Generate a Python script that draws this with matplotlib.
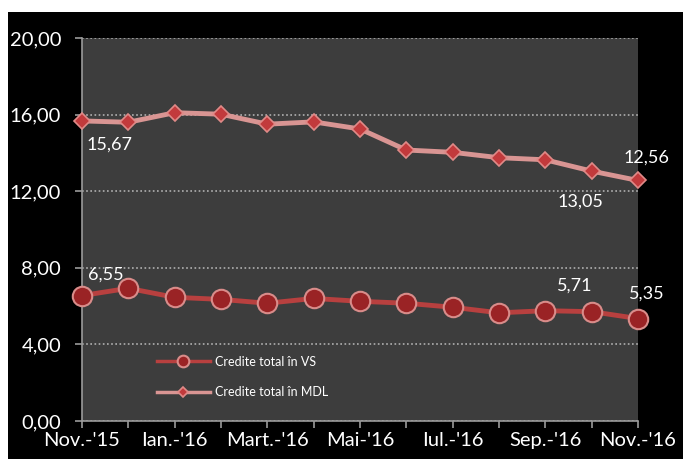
import matplotlib.pyplot as plt
from matplotlib.patches import Rectangle

months = ["Nov.-'15", "Dec.-'15", "Ian.-'16", "Feb.-'16", "Mart.-'16", "Apr.-'16", "Mai-'16",
          "Iun.-'16", "Iul.-'16", "Aug.-'16", "Sep.-'16", "Oct.-'16", "Nov.-'16"]
credite_vs = [6.55, 6.93, 6.46, 6.35, 6.15, 6.40, 6.25, 6.15, 5.94, 5.65, 5.76, 5.71, 5.35]
credite_mdl = [15.67, 15.60, 16.10, 16.02, 15.50, 15.62, 15.25, 14.15, 14.03, 13.75, 13.64, 13.05, 12.56]
yticks = [0, 4, 8, 12, 16, 20]

# which points get a value label, and where (offset in points)
labels_vs = {0: (17, 9), 11: (-12, 13), 12: (6, 12)}
labels_mdl = {0: (20, -11), 11: (-8, -16), 12: (6, 11)}


def fmt(v):
    return ('%.2f' % v).replace('.', ',')


plt.rcParams['font.family'] = ['Lato', 'DejaVu Sans']

fig = plt.figure(figsize=(6.83, 4.59), dpi=100, facecolor='white')
fig.patches.append(Rectangle((8 / 683, 0), 1, 1 - 12 / 459, transform=fig.transFigure,
                             facecolor='black', edgecolor='none', zorder=-10))
ax = fig.add_axes([82 / 683, 38 / 459, (638 - 82) / 683, (421 - 38) / 459])
ax.set_facecolor('#3d3d3d')

x = list(range(len(months)))
ax.plot(x, credite_vs, color='#b8403f', lw=3.5, marker='o', ms=14,
        markerfacecolor='#9a2325', markeredgecolor='#d98c8a', markeredgewidth=1.5,
        label='Credite total în VS', zorder=3, clip_on=False)
ax.plot(x, credite_mdl, color='#d99593', lw=3.5, marker='D', ms=8.5,
        markerfacecolor='#c23a3c', markeredgecolor='#e08a88', markeredgewidth=1.2,
        label='Credite total în MDL', zorder=3, clip_on=False)

for i, (dx, dy) in labels_vs.items():
    ax.annotate(fmt(credite_vs[i]), (x[i], credite_vs[i]), xytext=(dx, dy),
                textcoords='offset points', ha='center', va='bottom' if dy > 0 else 'top',
                color='white', fontsize=13)
for i, (dx, dy) in labels_mdl.items():
    ax.annotate(fmt(credite_mdl[i]), (x[i], credite_mdl[i]), xytext=(dx, dy),
                textcoords='offset points', ha='center', va='bottom' if dy > 0 else 'top',
                color='white', fontsize=13)

ax.set_xlim(0, len(months) - 1)
ax.set_ylim(0, 20)
ax.set_yticks(yticks)
ax.set_yticklabels([fmt(v) for v in yticks])
ax.set_xticks(x)
ax.set_xticklabels([m if i % 2 == 0 else '' for i, m in enumerate(months)])
ax.yaxis.grid(True, color='#b0b0b0', ls=(0, (1, 1.5)), lw=1.2)
ax.set_axisbelow(True)
ax.tick_params(colors='#9a9a9a', labelcolor='white', labelsize=14.5, length=5, width=1.2)
ax.tick_params(axis='x', pad=3)
ax.tick_params(axis='y', pad=10)
for side in ['top', 'right']:
    ax.spines[side].set_visible(False)
for side in ['left', 'bottom']:
    ax.spines[side].set_color('#9a9a9a')
    ax.spines[side].set_linewidth(1.2)

leg = ax.legend(loc='lower left', bbox_to_anchor=(0.115, 0.03), frameon=False,
                fontsize=9, labelcolor='white', handlelength=4.2, labelspacing=1.5,
                markerscale=0.6, handletextpad=0.4)
for line in leg.get_lines():
    line.set_linewidth(2.5)

fig.savefig('out.png', dpi=100, facecolor=fig.get_facecolor())
